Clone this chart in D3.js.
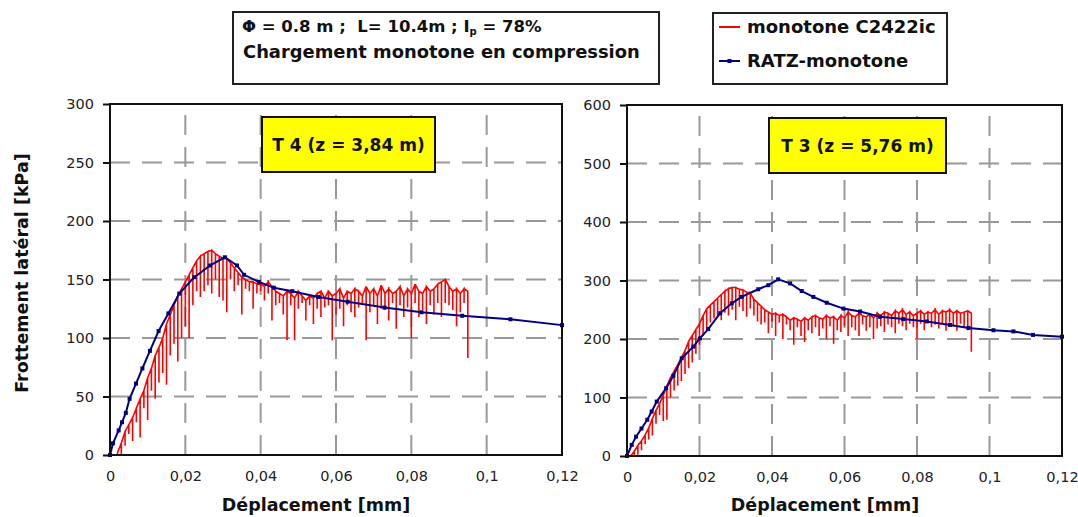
<!DOCTYPE html>
<html><head><meta charset="utf-8">
<script src="https://cdn.jsdelivr.net/npm/d3@7"></script>
<style>body{margin:0;background:#fff}svg{display:block}</style>
</head><body><svg id="c" width="1078" height="517"></svg>
<script>
// ---------- data ----------
const xTicks = [0, 0.02, 0.04, 0.06, 0.08, 0.1, 0.12];
const xTickLabels = ["0", "0,02", "0,04", "0,06", "0,08", "0,1", "0,12"];
const t4YTicks = [0, 50, 100, 150, 200, 250, 300];
const t3YTicks = [0, 100, 200, 300, 400, 500, 600];
const seriesNames = ["monotone C2422ic", "RATZ-monotone"];
const panelTitles = ["T 4 (z = 3,84 m)", "T 3 (z = 5,76 m)"];

// RATZ-monotone (model) curves
const t4RatzX = [0, 0.0008, 0.0023, 0.0032, 0.0042, 0.0052, 0.0069, 0.0086, 0.0106, 0.0129, 0.0155, 0.0184, 0.0224, 0.0266, 0.0305, 0.0337, 0.0356, 0.0395, 0.0435, 0.0484, 0.0553, 0.0631, 0.0729, 0.0827, 0.0935, 0.1063, 0.12];
const t4RatzY = [0, 10, 21, 28, 36, 48, 61, 74, 89, 106, 121, 138, 152, 162, 169, 162, 154, 148, 143, 140, 135, 131, 126, 122, 119, 116, 111];
const t3RatzX = [0, 0.0013, 0.0025, 0.004, 0.0056, 0.0068, 0.0082, 0.0108, 0.0128, 0.0151, 0.0183, 0.0201, 0.0224, 0.0257, 0.0289, 0.0316, 0.0362, 0.039, 0.0417, 0.045, 0.0482, 0.0514, 0.0551, 0.0597, 0.0643, 0.0698, 0.0762, 0.0827, 0.0891, 0.0942, 0.1011, 0.1066, 0.112, 0.12];
const t3RatzY = [0, 19, 33, 47, 62, 76, 93, 116, 137, 167, 187, 201, 217, 244, 261, 272, 285, 292, 302, 295, 282, 272, 262, 252, 247, 238, 234, 230, 224, 219, 215, 213, 207, 204];

// measured (monotone C2422ic): x, upper value and lowest dip at that x
const t4MesX = [0.002,0.003,0.004,0.005,0.006,0.007,0.008,0.009,0.010,0.011,0.012,0.013,0.014,0.015,0.016,0.017,0.018,0.019,0.020,0.021,0.022,0.023,0.024,0.025,0.026,0.027,0.028,0.029,0.030,0.031,0.032,0.033,0.034,0.035,0.036,0.037,0.038,0.039,0.040,0.041,0.042,0.043,0.044,0.045,0.046,0.047,0.048,0.049,0.050,0.051,0.052,0.053,0.054,0.055,0.056,0.057,0.058,0.059,0.060,0.061,0.062,0.063,0.064,0.065,0.066,0.067,0.068,0.069,0.070,0.071,0.072,0.073,0.074,0.075,0.076,0.077,0.078,0.079,0.080,0.081,0.082,0.083,0.084,0.085,0.086,0.087,0.088,0.089,0.090,0.091,0.092,0.093,0.094,0.095];
const t4MesTop = [2,10,20,26,32,40,48,55,66,74,85,92,100,112,120,128,136,142,148,154,160,166,170,172,174,175,172,170,168,168,164,160,156,152,150,148,148,146,146,144,148,144,140,138,136,140,138,134,140,136,132,136,134,138,140,134,140,136,138,142,134,140,138,142,140,136,144,138,142,136,145,138,142,138,140,144,136,142,138,146,140,138,144,140,142,146,148,150,144,140,142,138,142,140];
const t4MesLow = [0,0,8,18,12,28,15,40,30,55,48,62,70,60,85,95,80,100,110,100,128,140,135,140,145,138,150,135,132,122,150,140,145,120,142,140,125,138,140,132,138,115,128,130,120,98,128,98,125,130,115,128,112,125,118,126,128,98,120,125,110,128,122,118,126,130,98,122,128,112,125,124,115,130,108,128,118,126,100,130,118,124,112,128,120,130,118,130,128,124,110,122,130,83];

const t3MesX = [0.001,0.002,0.003,0.004,0.005,0.006,0.007,0.008,0.009,0.010,0.011,0.012,0.013,0.014,0.015,0.016,0.017,0.018,0.019,0.020,0.021,0.022,0.023,0.024,0.025,0.026,0.027,0.028,0.029,0.030,0.031,0.032,0.033,0.034,0.035,0.036,0.037,0.038,0.039,0.040,0.041,0.042,0.043,0.044,0.045,0.046,0.047,0.048,0.049,0.050,0.051,0.052,0.053,0.054,0.055,0.056,0.057,0.058,0.059,0.060,0.061,0.062,0.063,0.064,0.065,0.066,0.067,0.068,0.069,0.070,0.071,0.072,0.073,0.074,0.075,0.076,0.077,0.078,0.079,0.080,0.081,0.082,0.083,0.084,0.085,0.086,0.087,0.088,0.089,0.090,0.091,0.092,0.093,0.094,0.095];
const t3MesTop = [0,8,18,26,36,48,64,78,90,104,120,134,145,156,168,180,196,206,216,226,240,252,258,264,270,276,282,286,288,288,285,284,280,278,268,262,256,250,246,242,244,240,242,238,232,236,234,230,236,232,238,240,236,234,240,236,238,232,240,236,246,240,238,244,240,238,242,236,244,240,246,244,240,248,244,250,242,246,240,244,248,242,246,244,250,242,248,246,250,244,248,244,246,248,244];
const t3MesLow = [0,0,2,10,20,28,35,55,70,60,62,100,112,120,128,140,150,160,175,190,205,215,228,235,240,232,245,240,250,232,255,248,238,252,240,230,225,228,210,230,205,228,200,225,215,190,220,205,195,215,210,220,205,218,200,222,192,215,212,222,205,220,215,205,225,214,220,200,218,222,212,225,220,210,226,222,215,226,220,200,226,215,228,220,225,218,226,214,228,222,214,226,220,215,178];

// ---------- drawing ----------
const svg = d3.select("#c");
const RED = "#ff0000", BLUE = "#000080";
const panels = [
  {x0:110, x1:562, y0:455, y1:104, yTicks:t4YTicks, ymax:300, rx:t4RatzX, ry:t4RatzY, mx:t4MesX, mt:t4MesTop, ml:t4MesLow,
   title:panelTitles[0], box:[262,117,173,55], xlabelX:316},
  {x0:627, x1:1062, y0:456, y1:105, yTicks:t3YTicks, ymax:600, rx:t3RatzX, ry:t3RatzY, mx:t3MesX, mt:t3MesTop, ml:t3MesLow,
   title:panelTitles[1], box:[769,118,177,55], xlabelX:825}
];

panels.forEach(p => {
  const x = d3.scaleLinear().domain([0, 0.12]).range([p.x0, p.x1]);
  const y = d3.scaleLinear().domain([0, p.ymax]).range([p.y0, p.y1]);
  const g = svg.append("g");
  // grid
  g.append("g").selectAll("line").data(p.yTicks.filter(v => v > 0 && v < p.ymax)).join("line")
    .attr("x1", p.x0).attr("x2", p.x1).attr("y1", d => y(d)).attr("y2", d => y(d))
    .attr("stroke", "#999").attr("stroke-width", 2).attr("stroke-dasharray", "20,12");
  g.append("g").selectAll("line").data(xTicks.filter(v => v > 0 && v < 0.12)).join("line")
    .attr("x1", d => x(d)).attr("x2", d => x(d)).attr("y1", p.y0).attr("y2", p.y1)
    .attr("stroke", "#999").attr("stroke-width", 2).attr("stroke-dasharray", "20,12");

  // measured series
  const pts = [];
  p.mx.forEach((xv, i) => { pts.push([xv, p.mt[i]]); pts.push([xv, p.ml[i]]); pts.push([xv, p.mt[i]]); });
  const line = d3.line().x(d => x(d[0])).y(d => y(d[1]));
  g.append("path").attr("d", line(pts)).attr("fill", "none").attr("stroke", RED).attr("stroke-width", 1.6);

  // model series
  const rpts = p.rx.map((xv, i) => [xv, p.ry[i]]);
  g.append("path").attr("d", line(rpts)).attr("fill", "none").attr("stroke", BLUE).attr("stroke-width", 2);
  g.append("g").selectAll("rect").data(rpts).join("rect")
    .attr("x", d => x(d[0]) - 2).attr("y", d => y(d[1]) - 2).attr("width", 4).attr("height", 4).attr("fill", BLUE);

  // frame
  g.append("rect").attr("x", p.x0).attr("y", p.y1).attr("width", p.x1 - p.x0).attr("height", p.y0 - p.y1)
    .attr("fill", "none").attr("stroke", "#111").attr("stroke-width", 2);

  // y axis
  const ya = d3.axisLeft(y).tickValues(p.yTicks).tickSize(7).tickPadding(9).tickFormat(d3.format("d"));
  const yg = g.append("g").attr("transform", `translate(${p.x0},0)`).call(ya);
  yg.select(".domain").remove();
  yg.selectAll("line").attr("stroke", "#111").attr("stroke-width", 2);
  yg.selectAll("text").attr("font-family", "DejaVu Sans").attr("font-size", 14.5).attr("fill", "#222");

  // x axis
  const xa = d3.axisBottom(x).tickValues(xTicks).tickSize(0).tickPadding(26)
    .tickFormat((d, i) => xTickLabels[i]);
  const xg = g.append("g").attr("transform", `translate(0,${p.y0})`).call(xa);
  xg.select(".domain").remove();
  xg.selectAll("text").attr("font-family", "DejaVu Sans").attr("font-size", 14.5).attr("fill", "#222").attr("dy", 0);

  // x title
  g.append("text").attr("x", p.xlabelX).attr("y", 511).attr("text-anchor", "middle")
    .attr("font-family", "DejaVu Sans").attr("font-weight", "bold").attr("font-size", 17.5).attr("fill", "#111")
    .text("Déplacement [mm]");

  // yellow label box
  const [bx, by, bw, bh] = p.box;
  g.append("rect").attr("x", bx).attr("y", by).attr("width", bw).attr("height", bh)
    .attr("fill", "#ffff00").attr("stroke", "#111").attr("stroke-width", 2);
  g.append("text").attr("x", bx + bw / 2).attr("y", by + 34).attr("text-anchor", "middle")
    .attr("font-family", "DejaVu Sans").attr("font-weight", "bold").attr("font-size", 17).attr("fill", "#111")
    .text(p.title);
});

// y title
svg.append("text").attr("transform", "translate(28,273) rotate(-90)").attr("text-anchor", "middle")
  .attr("font-family", "DejaVu Sans").attr("font-weight", "bold").attr("font-size", 17.5).attr("fill", "#111")
  .text("Frottement latéral  [kPa]");

// title box
svg.append("rect").attr("x", 233).attr("y", 12).attr("width", 426).attr("height", 72)
  .attr("fill", "#fff").attr("stroke", "#222").attr("stroke-width", 2);
const t1 = svg.append("text").attr("x", 242).attr("y", 32)
  .attr("font-family", "DejaVu Sans").attr("font-weight", "bold").attr("font-size", 16.5).attr("fill", "#111")
  .attr("xml:space", "preserve");
t1.append("tspan").text("Φ = 0.8 m ;  L= 10.4m ; I");
t1.append("tspan").attr("font-size", 10).attr("dy", 3).text("p");
t1.append("tspan").attr("dy", -3).text(" = 78%");
svg.append("text").attr("x", 243).attr("y", 58)
  .attr("font-family", "DejaVu Sans").attr("font-weight", "bold").attr("font-size", 17.9).attr("fill", "#111")
  .text("Chargement monotone en compression");

// legend box
svg.append("rect").attr("x", 713).attr("y", 13).attr("width", 234).attr("height", 71)
  .attr("fill", "#fff").attr("stroke", "#222").attr("stroke-width", 2);
const legY = [27, 61];
const legColors = [RED, BLUE];
seriesNames.forEach((name, i) => {
  svg.append("line").attr("x1", 719).attr("x2", 740).attr("y1", legY[i]).attr("y2", legY[i])
    .attr("stroke", legColors[i]).attr("stroke-width", 2);
  if (i === 1) svg.append("rect").attr("x", 727.5).attr("y", legY[i] - 2).attr("width", 4).attr("height", 4).attr("fill", BLUE);
  svg.append("text").attr("x", 747).attr("y", legY[i] + 6)
    .attr("font-family", "DejaVu Sans").attr("font-weight", "bold").attr("font-size", 18).attr("fill", "#111")
    .text(name);
});
</script></body></html>
